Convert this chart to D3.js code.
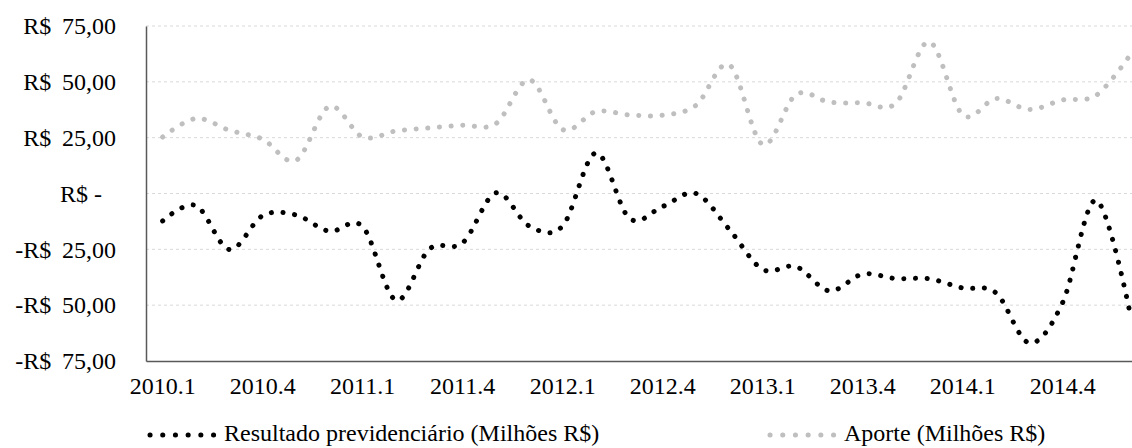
<!DOCTYPE html>
<html>
<head>
<meta charset="utf-8">
<script src="https://cdn.jsdelivr.net/npm/d3@7"></script>
<style>
  body { margin: 0; background: #fff; }
  svg { display: block; font-family: "Liberation Serif", "Times New Roman", serif; }
</style>
</head>
<body>
<svg id="chart"></svg>
<script>
// Bimonthly periods
const categories = [
  '2010.1', '2010.2', '2010.3', '2010.4', '2010.5', '2010.6',
  '2011.1', '2011.2', '2011.3', '2011.4', '2011.5', '2011.6',
  '2012.1', '2012.2', '2012.3', '2012.4', '2012.5', '2012.6',
  '2013.1', '2013.2', '2013.3', '2013.4', '2013.5', '2013.6',
  '2014.1', '2014.2', '2014.3', '2014.4', '2014.5', '2014.6'
];

// Resultado previdenciário (Milhões R$)
const resultado = [
  -12.3, -5.4, -25.1, -9.9, -9.6, -16.9,
  -14.8, -47.8, -24.9, -22.1, 0.3, -14.6,
  -14.5, 18.2, -11.1, -5.8, 0.0, -16.1,
  -34.0, -32.7, -43.6, -36.1, -38.1, -38.2,
  -42.3, -44.5, -66.9, -48.8, -3.0, -52.1
];

// Aporte (Milhões R$)
const aporte = [
  25.3, 33.6, 28.3, 24.3, 14.8, 39.0,
  25.3, 28.0, 29.4, 30.6, 31.3, 50.9,
  28.6, 36.7, 35.2, 35.1, 39.5, 57.6,
  21.9, 44.3, 40.9, 40.6, 40.5, 67.9,
  35.2, 42.5, 37.6, 41.9, 43.9, 61.5
];

const yTicks = [-75, -50, -25, 0, 25, 50, 75];
// accounting-style labels (R$ slightly padded away from the number)
const yTickLabels = ['-R$\u2009 75,00', '-R$\u2009 50,00', '-R$\u2009 25,00', 'R$ -',
  'R$\u2009 25,00', 'R$\u2009 50,00', 'R$\u2009 75,00'];
const xTickLabels = categories.filter((d, i) => i % 3 === 0);

const legendNames = ['Resultado previdenciário (Milhões R$)', 'Aporte (Milhões R$)'];

const width = 1132;
const height = 448;
const margin = { top: 26, right: -14, bottom: 87, left: 146 };

const svg = d3.select('#chart')
  .attr('width', width)
  .attr('height', height);

// Scales
const x = d3.scaleBand()
  .domain(categories)
  .range([margin.left, width - margin.right]);

const y = d3.scaleLinear()
  .domain([-75, 75])
  .range([height - margin.bottom, margin.top]);

const cx = d => x(d) + x.bandwidth() / 2;

// Gridlines
svg.append('g')
  .selectAll('line')
  .data(yTicks.filter(t => t !== -75))
  .join('line')
  .attr('x1', margin.left)
  .attr('x2', width - margin.right)
  .attr('y1', d => y(d))
  .attr('y2', d => y(d))
  .attr('stroke', '#d9d9d9')
  .attr('stroke-width', 1)
  .attr('stroke-dasharray', '3,3');

// Y axis
const yAxis = svg.append('g')
  .attr('transform', `translate(${margin.left},0)`)
  .call(d3.axisLeft(y)
    .tickValues(yTicks)
    .tickSize(0)
    .tickPadding(30)
    .tickFormat((d, i) => yTickLabels[i]));
yAxis.select('.domain').attr('stroke', '#595959').attr('stroke-width', 1.5);
yAxis.selectAll('text')
  .attr('font-size', 24)
  .attr('font-family', '"Liberation Serif", serif')
  .attr('fill', '#000')
  .attr('dx', d => d === 0 ? -14 : 0);

// X axis
const xAxis = svg.append('g')
  .attr('transform', `translate(0,${y(-75)})`)
  .call(d3.axisBottom(x)
    .tickValues(xTickLabels)
    .tickSize(0)
    .tickPadding(16));
xAxis.select('.domain').attr('stroke', '#595959').attr('stroke-width', 1.5);
xAxis.selectAll('text')
  .attr('font-size', 24)
  .attr('font-family', '"Liberation Serif", serif')
  .attr('fill', '#000');

// Lines (smoothed, round dots)
const line = d3.line()
  .x((d, i) => cx(categories[i]))
  .y(d => y(d))
  .curve(d3.curveCatmullRom.alpha(0));

const series = [
  { name: legendNames[0], values: resultado, color: '#000000' },
  { name: legendNames[1], values: aporte, color: '#bfbfbf' }
];

series.slice().reverse().forEach(s => {
  svg.append('path')
    .datum(s.values)
    .attr('fill', 'none')
    .attr('stroke', s.color)
    .attr('stroke-width', 5)
    .attr('stroke-linecap', 'round')
    .attr('stroke-dasharray', '0.1,11.6')
    .attr('d', line);
});

// Legend
const legendX = [150, 770];
const legend = svg.append('g');
series.forEach((s, i) => {
  legend.append('line')
    .attr('x1', legendX[i])
    .attr('x2', legendX[i] + 64)
    .attr('y1', 435)
    .attr('y2', 435)
    .attr('stroke', s.color)
    .attr('stroke-width', 5)
    .attr('stroke-linecap', 'round')
    .attr('stroke-dasharray', '0.1,12.6');
  legend.append('text')
    .attr('x', legendX[i] + 74)
    .attr('y', 441)
    .attr('font-size', 24)
    .attr('fill', '#000')
    .text(s.name);
});
</script>
</body>
</html>
